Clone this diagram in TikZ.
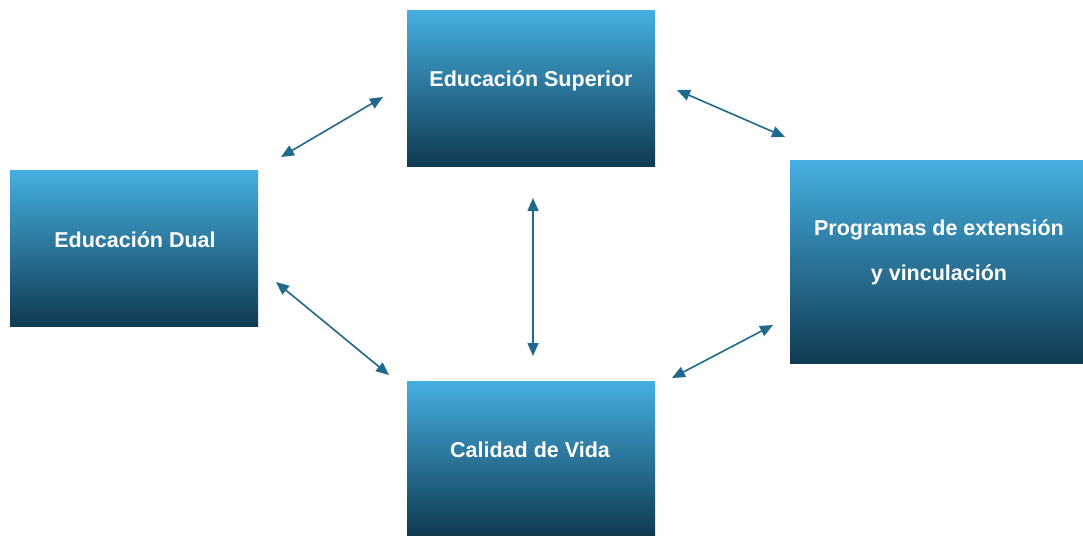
\documentclass[tikz,border=0pt]{standalone}
\usepackage{fontspec}
\setmainfont{Liberation Sans}
\usetikzlibrary{arrows.meta}
\definecolor{boxtop}{HTML}{45AFE0}
\definecolor{boxbot}{HTML}{103A52}
\definecolor{arrowc}{HTML}{1F6A8C}
\tikzset{
  blockbox/.style={rectangle, draw=none, top color=boxtop, bottom color=boxbot, anchor=north west, inner sep=0pt},
  blocklabel/.style={text=white, font=\fontsize{21.5}{25}\selectfont\bfseries, align=center},
  link/.style={draw=arrowc, line width=1.6pt, {Triangle[length=13pt,width=11pt]}-{Triangle[length=13pt,width=11pt]}}
}
\begin{document}
\begin{tikzpicture}[x=1pt,y=-1pt]
\useasboundingbox (0,0) rectangle (1083,535);
\fill[white] (0,0) rectangle (1083,535);
% boxes
\node[blockbox, minimum width=248pt, minimum height=156pt] (es) at (407,10) {};
\node[blockbox, minimum width=248pt, minimum height=156pt] (ed) at (10,170) {};
\node[blockbox, minimum width=293pt, minimum height=203pt] (pr) at (790,160) {};
\node[blockbox, minimum width=248pt, minimum height=154pt] (cv) at (407,381) {};
% labels
\node[blocklabel] (tes) at (531,81) {Educación Superior};
\node[blocklabel] (ted) at (135,240) {Educación Dual};
\node[blocklabel] (tpr1) at (939,230) {Programas de extensión};
\node[blocklabel] (tpr2) at (939,275) {y vinculación};
\node[blocklabel] (tcv) at (530,450) {Calidad de Vida};
% arrow end points
\coordinate (a1) at (383,97);
\coordinate (b1) at (281,157);
\coordinate (a2) at (677,90);
\coordinate (b2) at (785,137);
\coordinate (a3) at (533,198);
\coordinate (b3) at (533,356);
\coordinate (a4) at (276,282);
\coordinate (b4) at (389,375);
\coordinate (a5) at (672,378);
\coordinate (b5) at (773,325);
\draw[link] (a1) -- (b1);
\draw[link] (a2) -- (b2);
\draw[link] (a3) -- (b3);
\draw[link] (a4) -- (b4);
\draw[link] (a5) -- (b5);
\end{tikzpicture}
\end{document}
